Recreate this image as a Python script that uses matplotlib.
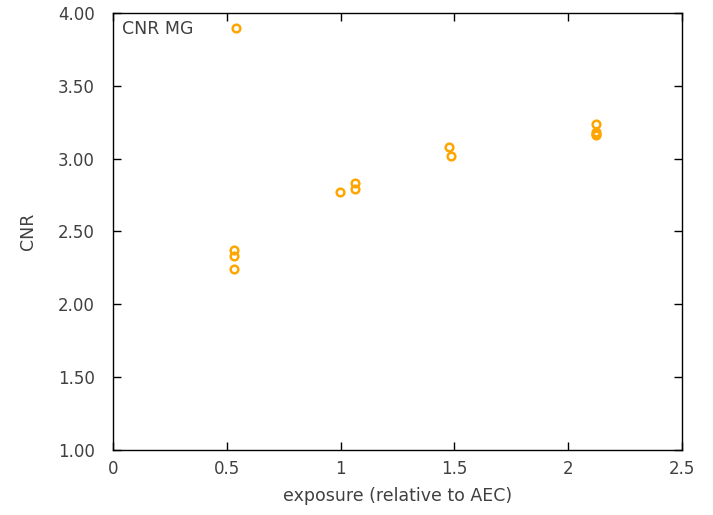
import matplotlib
matplotlib.use("Agg")
import matplotlib.pyplot as plt

# CNR measurements against exposure relative to AEC
exposure = [0.54, 0.532, 0.532, 0.532, 0.997, 1.063, 1.063, 1.476, 1.485,
            2.122, 2.122, 2.122, 2.122]
cnr = [3.90, 2.37, 2.33, 2.24, 2.77, 2.83, 2.79, 3.08, 3.02,
       3.24, 3.18, 3.17, 3.16]

xticks = [0, 0.5, 1, 1.5, 2, 2.5]
xticklabels = ["0", "0.5", "1", "1.5", "2", "2.5"]
yticks = [1.0, 1.5, 2.0, 2.5, 3.0, 3.5, 4.0]

plt.rcParams['font.family'] = ['DejaVu Sans']

fig = plt.figure(figsize=(7.13, 5.15), dpi=100)
ax = fig.add_axes([0.1585, 0.1262, 0.798, 0.8486])

ax.plot(exposure, cnr, linestyle='none', marker='o', markersize=5.5,
        markerfacecolor='none', markeredgecolor='#ffa500', markeredgewidth=1.8)

ax.set_xlim(0, 2.5)
ax.set_ylim(1.0, 4.0)
ax.set_xticks(xticks)
ax.set_xticklabels(xticklabels)
ax.set_yticks(yticks)
ax.set_yticklabels([f"{v:.2f}" for v in yticks])
ax.tick_params(direction='in', top=True, right=True, length=6, width=1,
               labelsize=12, labelcolor='#404040')
ax.tick_params(axis='x', pad=7)
ax.tick_params(axis='y', pad=13)

for s in ax.spines.values():
    s.set_linewidth(1)

ax.set_xlabel("exposure (relative to AEC)", fontsize=12.5, color='#404040', labelpad=7)
ax.set_ylabel("CNR", fontsize=12.5, color='#404040', labelpad=15)
ax.text(0.016, 0.985, "CNR MG", transform=ax.transAxes, ha='left', va='top',
        fontsize=12.5, color='#404040')

fig.savefig("out.png", dpi=100)
